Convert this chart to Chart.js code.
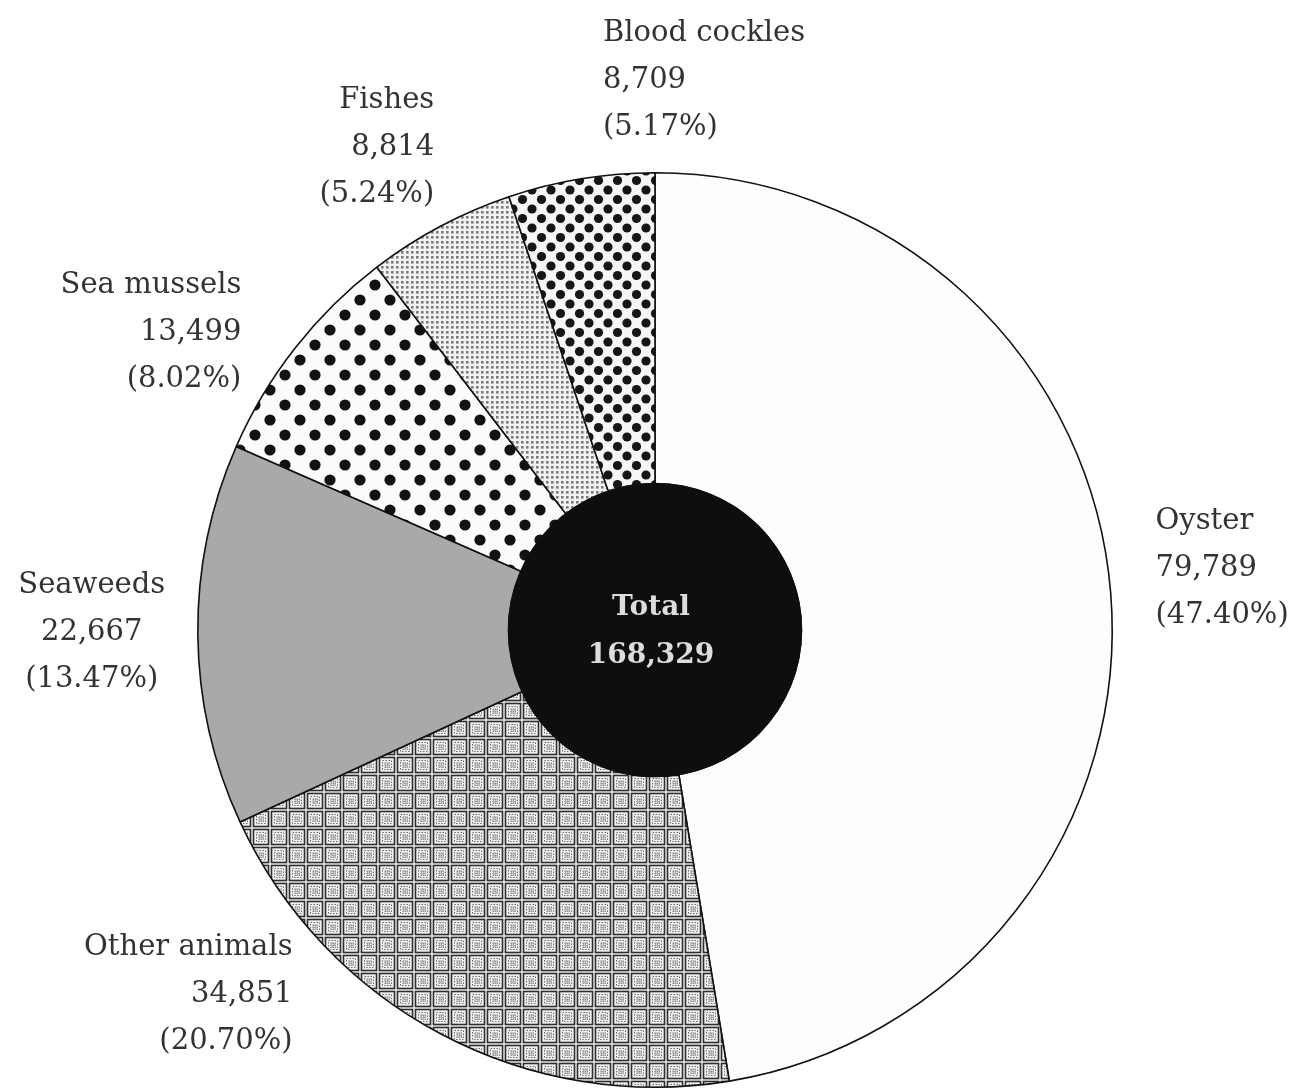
<!DOCTYPE html>
<html>
<head>
<meta charset="utf-8">
<script src="https://cdn.jsdelivr.net/npm/chart.js@4.4.1/dist/chart.umd.min.js"></script>
<style>
  html, body { margin: 0; padding: 0; background: #fff; }
</style>
</head>
<body>
<canvas id="pie-chart" width="1302" height="1090"></canvas>
<script>
// Data (clockwise from 12 o'clock)
const categories = ['Oyster', 'Other animals', 'Seaweeds', 'Sea mussels', 'Fishes', 'Blood cockles'];
const production = [79789, 34851, 22667, 13499, 8814, 8709];
const shares = [47.40, 20.70, 13.47, 8.02, 5.24, 5.17];
const totalText = ['Total', '168,329'];

// where each label block sits: angle (deg, clockwise from top), distance (x outer radius), text alignment
const labelPlacement = [
    {angle: 83.0, dist: 1.103, align: 'left'},
    {angle: 224.8, dist: 1.125, align: 'right'},
    {angle: 269.7, dist: 1.232, align: 'center'},
    {angle: 305.7, dist: 1.114, align: 'right'},
    {angle: 335.4, dist: 1.16, align: 'right'},
    {angle: 354.6, dist: 1.208, align: 'left'}
];

// small offscreen tiles for the screen patterns
function makeTile(size, draw) {
    const c = document.createElement('canvas');
    c.width = size;
    c.height = size;
    const g = c.getContext('2d');
    draw(g, size);
    return g.createPattern(c, 'repeat');
}

function dots(size, r, bg, fg) {
    return makeTile(size, (g, s) => {
        g.fillStyle = bg;
        g.fillRect(0, 0, s, s);
        g.fillStyle = fg;
        [[0, 0], [s, 0], [0, s], [s, s], [s / 2, s / 2]].forEach(([x, y]) => {
            g.beginPath();
            g.arc(x, y, r, 0, Math.PI * 2);
            g.fill();
        });
    });
}

const fineScreen = makeTile(5, (g, s) => {
    g.fillStyle = '#f2f2f2';
    g.fillRect(0, 0, s, s);
    g.fillStyle = '#7c7c7c';
    g.fillRect(1, 1, 2.6, 2.6);
});

// woven squares for "Other animals"
const weave = makeTile(18, (g, s) => {
    g.fillStyle = '#f0f0f0';
    g.fillRect(0, 0, s, s);
    g.strokeStyle = '#2e2e2e';
    g.lineWidth = 1.6;
    g.strokeRect(1.5, 1.5, s - 3, s - 3);
    g.strokeStyle = '#6a6a6a';
    g.lineWidth = 1;
    g.setLineDash([1.5, 1.5]);
    g.strokeRect(4.5, 4.5, s - 9, s - 9);
    g.setLineDash([]);
    g.fillStyle = '#3a3a3a';
    for (let i = 0; i < 3; i++) {
        for (let j = 0; j < 3; j++) {
            g.fillRect(6.6 + i * 2, 6.6 + j * 2, 1.1, 1.1);
        }
    }
});

const fills = [
    '#fdfdfd',
    weave,
    '#a9a9a9',
    dots(30, 5.6, '#fbfbfb', '#121212'),
    fineScreen,
    dots(19, 4.6, '#f6f6f6', '#161616')
];

// black hub with the total
const centerHub = {
    id: 'centerHub',
    afterDatasetsDraw(chart) {
        const arc = chart.getDatasetMeta(0).data[0];
        if (!arc) return;
        const {x, y, innerRadius} = arc.getProps(['x', 'y', 'innerRadius'], true);
        const ctx = chart.ctx;
        ctx.save();
        ctx.beginPath();
        ctx.arc(x, y, innerRadius + 1, 0, Math.PI * 2);
        ctx.fillStyle = '#0e0e0e';
        ctx.fill();
        ctx.fillStyle = '#dcdcdc';
        ctx.font = 'bold 28px "DejaVu Serif"';
        ctx.textAlign = 'center';
        ctx.textBaseline = 'middle';
        ctx.fillText(totalText[0], x - 4, y - 22);
        ctx.fillText(totalText[1], x - 4, y + 26);
        ctx.restore();
    }
};

// outside labels: name, value, share
const sliceLabels = {
    id: 'sliceLabels',
    afterDraw(chart) {
        const ctx = chart.ctx;
        const meta = chart.getDatasetMeta(0);
        ctx.save();
        ctx.fillStyle = '#333';
        ctx.font = '29px "DejaVu Serif"';
        ctx.textBaseline = 'middle';
        meta.data.forEach((arc, i) => {
            const {x, y, outerRadius} = arc.getProps(['x', 'y', 'outerRadius'], true);
            const p = labelPlacement[i];
            const a = p.angle * Math.PI / 180;
            const lx = x + Math.sin(a) * outerRadius * p.dist;
            const ly = y - Math.cos(a) * outerRadius * p.dist;
            ctx.textAlign = p.align;
            const lines = [
                categories[i],
                production[i].toLocaleString('en-US'),
                '(' + shares[i].toFixed(2) + '%)'
            ];
            lines.forEach((t, k) => ctx.fillText(t, lx, ly + (k - 1) * 47));
        });
        ctx.restore();
    }
};

const ctx = document.getElementById('pie-chart').getContext('2d');
const chart = new Chart(ctx, {
    type: 'doughnut',
    data: {
        labels: categories,
        datasets: [{
            data: production,
            backgroundColor: fills,
            borderColor: '#111',
            borderWidth: 1.6,
            borderAlign: 'center'
        }]
    },
    options: {
        responsive: false,
        animation: false,
        cutout: '32%',
        layout: {padding: {top: 172, bottom: 2, left: 8, right: 0}},
        plugins: {
            legend: {display: false},
            tooltip: {enabled: false}
        }
    },
    plugins: [centerHub, sliceLabels]
});
</script>
</body>
</html>
